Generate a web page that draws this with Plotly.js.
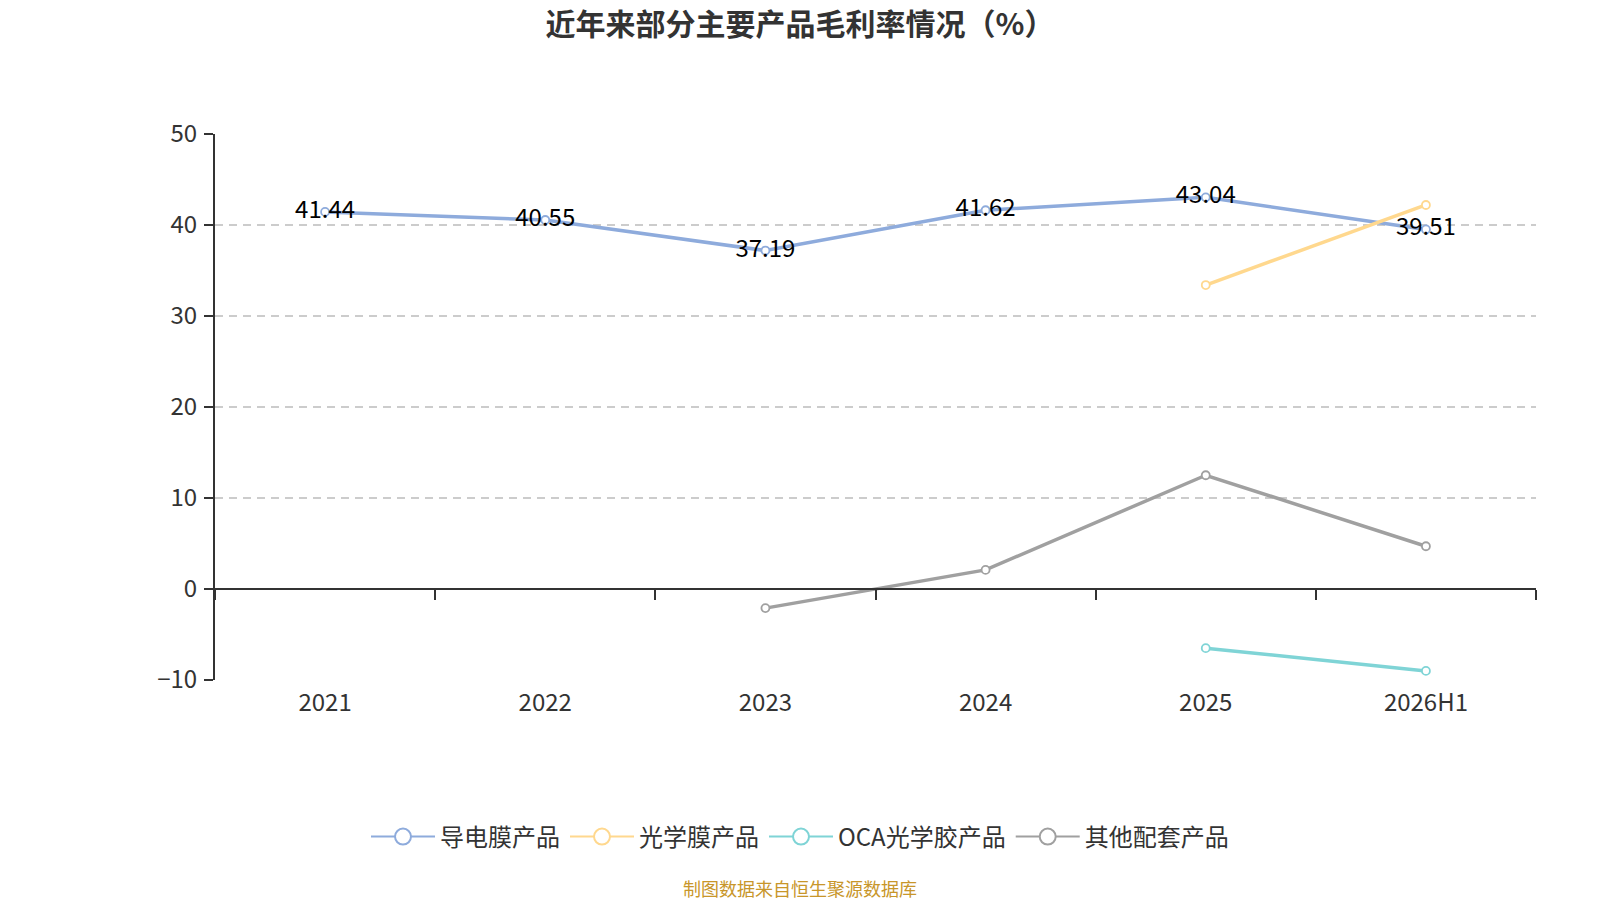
<!DOCTYPE html>
<html>
<head>
<meta charset="utf-8">
<script src="https://cdn.plot.ly/plotly-3.0.1.min.js"></script>
<style>
  html, body { margin: 0; padding: 0; background: #fff; }
  #plot { width: 1600px; height: 900px; }
</style>
</head>
<body>
<div id="plot"></div>
<script>
// chart data
let years = ["2021", "2022", "2023", "2024", "2025", "2026H1"];
let conductiveFilm = [41.44, 40.55, 37.19, 41.62, 43.04, 39.51];   // 导电膜产品
let opticalFilm = [null, null, null, null, 33.4, 42.2];            // 光学膜产品
let ocaGlue = [null, null, null, null, -6.5, -9.0];                // OCA光学胶产品
let otherProducts = [null, null, -2.1, 2.1, 12.5, 4.7];            // 其他配套产品
let seriesNames = ["导电膜产品", "光学膜产品", "OCA光学胶产品", "其他配套产品"];
let yTicks = [-10, 0, 10, 20, 30, 40, 50];

let colors = ["#8eabdc", "#ffd88e", "#7fd4d6", "#a0a0a0"];
let font = "Noto Sans CJK SC, Noto Sans, sans-serif";

function lineTrace(name, values, color, withLabels) {
  let t = {
    x: years,
    y: values,
    name: name,
    type: "scatter",
    mode: withLabels ? "lines+markers+text" : "lines+markers",
    line: { color: color, width: 3.5 },
    marker: { size: 8, color: "#fff", line: { color: color, width: 1.8 } },
    connectgaps: false,
    showlegend: false,
    hoverinfo: "x+y+name"
  };
  if (withLabels) {
    t.text = values.map(v => v.toFixed(2));
    t.textposition = "middle center";
    t.textfont = { family: font, size: 24, color: "#000" };
  }
  return t;
}

// legend-only entries, drawn with a bigger hollow circle like the reference
function legendTrace(name, color) {
  return {
    x: years,
    y: years.map(() => null),
    name: name,
    type: "scatter",
    mode: "lines+markers",
    line: { color: color, width: 2 },
    marker: { size: 22, color: "#fff", line: { color: color, width: 2 } },
    hoverinfo: "skip"
  };
}

let seriesValues = [conductiveFilm, opticalFilm, ocaGlue, otherProducts];
let traces = seriesValues.map((vals, i) => lineTrace(seriesNames[i], vals, colors[i], i === 0));
seriesNames.forEach((n, i) => traces.push(legendTrace(n, colors[i])));
// empty trace so the zero-level category axis gets drawn
traces.push({ x: years, y: years.map(() => null), xaxis: "x2", type: "scatter", mode: "lines",
  showlegend: false, hoverinfo: "skip" });

let yMin = -10, yMax = 50;
let mL = 215, mR = 64, mT = 134, mB = 220;
let plotW = 1600 - mL - mR, plotH = 900 - mT - mB;

let layout = {
  width: 1600,
  height: 900,
  paper_bgcolor: "#fff",
  plot_bgcolor: "#fff",
  font: { family: font, color: "#333" },
  margin: { l: mL, r: mR, t: mT, b: mB },
  title: {
    text: "<b>近年来部分主要产品毛利率情况（%）</b>",
    font: { family: font, size: 30, color: "#333" },
    xref: "container", x: 0.5, xanchor: "center",
    yref: "container", y: 1 - 24 / 900, yanchor: "middle"
  },
  xaxis: {
    type: "category",
    range: [-0.5, years.length - 0.5],
    showline: false,
    showgrid: false,
    zeroline: false,
    ticks: "",
    tickfont: { family: font, size: 24, color: "#333" },
    ticklabelstandoff: 6,
    fixedrange: true
  },
  xaxis2: {
    type: "category",
    matches: "x",
    overlaying: "x",
    anchor: "free",
    position: (0 - yMin) / (yMax - yMin),
    showline: true,
    linecolor: "#333",
    linewidth: 2,
    ticks: "outside",
    tickson: "boundaries",
    ticklen: 10,
    tickwidth: 2,
    tickcolor: "#333",
    showticklabels: false,
    showgrid: false,
    zeroline: false
  },
  yaxis: {
    range: [yMin, yMax],
    tickvals: yTicks,
    showline: true,
    linecolor: "#333",
    linewidth: 2,
    ticks: "outside",
    ticklen: 9,
    tickwidth: 2,
    tickcolor: "#333",
    showgrid: true,
    gridcolor: "#cccccc",
    griddash: "8px,6px",
    gridwidth: 1.5,
    zeroline: false,
    tickfont: { family: font, size: 24, color: "#333" },
    ticklabelstandoff: 2,
    fixedrange: true
  },
  legend: {
    orientation: "h",
    xref: "container", x: 0.5, xanchor: "center",
    yref: "container", y: 1 - 837 / 900, yanchor: "middle",
    font: { family: font, size: 24, color: "#333" },
    itemwidth: 64,
    traceorder: "normal"
  },
  annotations: [{
    text: "制图数据来自恒生聚源数据库",
    xref: "paper", yref: "paper",
    x: (800 - mL) / plotW, xanchor: "center",
    y: -(888 - (900 - mB)) / plotH, yanchor: "middle",
    showarrow: false,
    font: { family: font, size: 18, color: "#c8962a" }
  }],
  showlegend: true
};

Plotly.newPlot("plot", traces, layout, { displayModeBar: false, staticPlot: true });
</script>
</body>
</html>
